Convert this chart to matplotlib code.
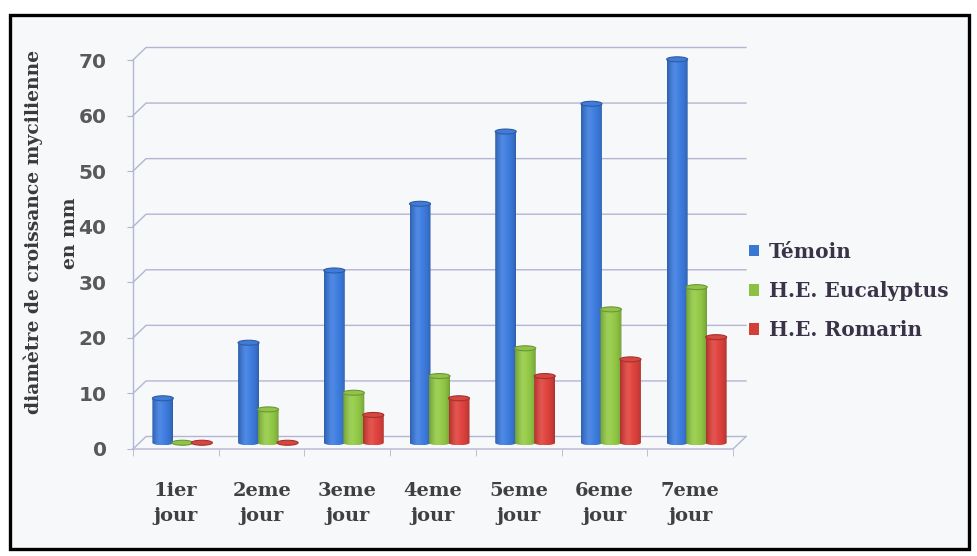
import numpy as np
import matplotlib.pyplot as plt
from matplotlib.patches import Ellipse, Rectangle, Patch
from matplotlib.path import Path
from matplotlib.colors import to_rgb

# diamètre de croissance mycélienne (mm) par jour
jours = ["1ier\njour", "2eme\njour", "3eme\njour", "4eme\njour",
         "5eme\njour", "6eme\njour", "7eme\njour"]
temoin = [8, 18, 31, 43, 56, 61, 69]
eucalyptus = [0, 6, 9, 12, 17, 24, 28]
romarin = [0, 0, 5, 8, 12, 15, 19]

noms = ["Témoin", "H.E. Eucalyptus", "H.E. Romarin"]
couleurs = ["#3a76d4", "#8cc043", "#d43f3a"]
series = [temoin, eucalyptus, romarin]

GRID = "#b3b6d2"
DX, DZ = 0.152, 2.25      # depth of the floor (x units, y units)
BAR_W, STEP = 0.245, 0.2275
CAP = 0.9                 # height of the elliptic top of a cylinder
BASE = DZ / 2             # cylinders stand in the middle of the floor

fig = plt.figure(figsize=(9.78, 5.56), dpi=100)
fig.patch.set_facecolor("white")
W, H = 978, 556
fig.patches.append(Rectangle((10 / W, 1 - 549 / H), 959 / W, 534 / H,
                             transform=fig.transFigure, facecolor="#f7f8fa",
                             edgecolor="black", lw=2.4, zorder=-1))

ax = fig.add_axes([133 / W, 107 / H, 600 / W, 389 / H], zorder=1)
ax.patch.set_visible(False)
for s in ax.spines.values():
    s.set_visible(False)

# back wall gridlines with the little slanted joint to the front axis
for v in range(0, 71, 10):
    ax.plot([-0.5, -0.5 + DX, 6.5 + DX], [v, v + DZ, v + DZ],
            color=GRID, lw=1, clip_on=False, zorder=1)
ax.plot([-0.5, 6.5, 6.5 + DX], [0, 0, DZ], color=GRID, lw=1,
        clip_on=False, zorder=1)
ax.plot([-0.5, -0.5], [0, 70], color=GRID, lw=1, clip_on=False, zorder=1)

t = np.linspace(0, 1, 64)
shade = 0.78 + 0.28 * np.sin(np.pi * t) ** 0.6
glow = 0.10 * np.exp(-((t - 0.35) / 0.18) ** 2)

x = np.arange(len(jours))
for i, (vals, col) in enumerate(zip(series, couleurs)):
    rgb = np.array(to_rgb(col))
    grad = np.clip(rgb[None, :] * shade[:, None]
                   + glow[:, None] * (1 - rgb[None, :]), 0, 1)[None]
    xpos = x + DX / 2 + (i - 1) * STEP
    z = 3 + 2 * i
    bars = ax.bar(xpos, vals, width=BAR_W, bottom=BASE, color=col,
                  zorder=z, linewidth=0)
    for b in bars:
        x0, x1 = b.get_x(), b.get_x() + b.get_width()
        xc, top = (x0 + x1) / 2, b.get_y() + b.get_height()
        if b.get_height() > 0:
            th = np.linspace(np.pi, 2 * np.pi, 40)
            verts = [(x0, top)] + list(zip(xc + BAR_W / 2 * np.cos(th),
                                           BASE + CAP / 2 * np.sin(th)))
            verts += [(x1, top), (x0, top)]
            im = ax.imshow(grad, extent=[x0, x1, BASE - CAP / 2, top],
                           aspect="auto", interpolation="bilinear", zorder=z)
            im.set_clip_path(Path(verts, closed=True), ax.transData)
            b.set_visible(False)
        ax.add_patch(Ellipse((xc, top), BAR_W, CAP, facecolor=rgb * 0.96 + 0.04,
                             edgecolor=rgb * 0.78, lw=0.8, zorder=z + 1,
                             clip_on=False))

ax.set_xlim(-0.5, 6.5)
ax.set_ylim(0, 70)

ax.set_xticks(x)
ax.set_xticklabels(jours, fontfamily="DejaVu Serif", fontweight="bold",
                   fontsize=14, color="#404040", linespacing=1.5)
ax.set_xticks(np.arange(-0.5, 7, 1), minor=True)
ax.tick_params(axis="x", which="major", length=0, pad=24)
ax.tick_params(axis="x", which="minor", length=5, color=GRID, direction="out")

ax.set_yticks(range(0, 71, 10))
ax.tick_params(axis="y", length=4, color=GRID, pad=15)
for lab in ax.get_yticklabels():
    lab.set_fontfamily("DejaVu Sans")
    lab.set_fontweight("bold")
    lab.set_fontsize(14.5)
    lab.set_color("#595959")

fig.text(33 / W, 1 - 232 / H, "diamètre de croissance mycilienne",
         rotation=90, ha="center", va="center", fontfamily="DejaVu Serif",
         fontweight="bold", fontsize=13.5, color="#3a3a3a")
fig.text(70 / W, 1 - 233 / H, "en mm", rotation=90, ha="center",
         va="center", fontfamily="DejaVu Serif", fontweight="bold",
         fontsize=13.5, color="#3a3a3a")

handles = [Patch(facecolor=c, edgecolor="none") for c in couleurs]
leg = fig.legend(handles, noms, loc="center left",
                 bbox_to_anchor=(749 / W, 1 - 291 / H),
                 bbox_transform=fig.transFigure, frameon=False,
                 handlelength=0.5, handleheight=0.5, handletextpad=0.5,
                 labelspacing=0.95, borderpad=0, borderaxespad=0,
                 prop={"family": "DejaVu Serif", "weight": "bold",
                       "size": 14.5})
for txt in leg.get_texts():
    txt.set_color("#3a3348")

fig.savefig("out.png", dpi=100)
